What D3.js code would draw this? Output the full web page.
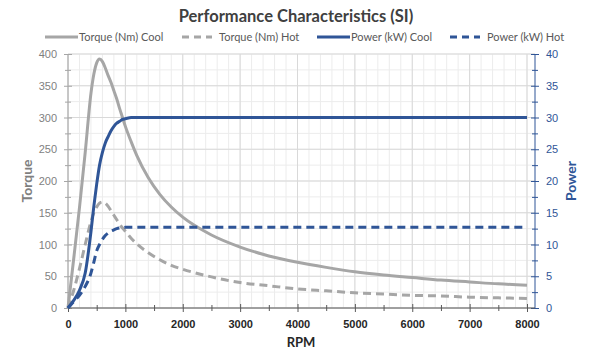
<!DOCTYPE html>
<html>
<head>
<meta charset="utf-8">
<script src="https://cdn.jsdelivr.net/npm/d3@7"></script>
<style>
  body { margin: 0; background: #fff; }
  svg { font-family: Lato, "Open Sans", sans-serif; }
</style>
</head>
<body>
<svg width="600" height="360"></svg>
<script>
// values
const rpm = [0, 100, 200, 300, 400, 450, 500, 550, 600, 650, 700, 750, 800, 850, 900, 950, 1000, 1100, 1200, 1400, 1600, 1800, 2000, 2500, 3000, 3500, 4000, 4500, 5000, 5500, 6000, 6500, 7000, 7500, 8000];
const torqueCool = [0, 78, 158, 245, 338, 368, 386, 392, 388, 378, 366, 355, 342, 329, 314, 300, 286, 262, 240, 205, 179, 159, 143, 115, 96, 82, 72, 64, 57, 52, 48, 44, 41, 38, 36];
const torqueHot = [0, 28, 62, 100, 136, 150, 159, 165, 167, 165, 160, 153, 146, 139, 132, 126, 121, 110, 101, 87, 76, 67, 61, 49, 40, 35, 30, 27, 24, 22, 20, 19, 17, 16, 15];
const powerCool = [0, 1.2, 2.8, 5.5, 12, 16, 19.5, 22.5, 24.5, 26, 27, 27.9, 28.6, 29.1, 29.4, 29.7, 29.8, 30, 30, 30, 30, 30, 30, 30, 30, 30, 30, 30, 30, 30, 30, 30, 30, 30, 30];
const powerHot = [0, 1, 2, 3.4, 5.5, 7.2, 9, 10, 10.8, 11.4, 11.8, 12.1, 12.3, 12.5, 12.6, 12.65, 12.7, 12.7, 12.7, 12.7, 12.7, 12.7, 12.7, 12.7, 12.7, 12.7, 12.7, 12.7, 12.7, 12.7, 12.7, 12.7, 12.7, 12.7, 12.7];

const xTicks = [0, 1000, 2000, 3000, 4000, 5000, 6000, 7000, 8000];
const torqueTicks = [0, 50, 100, 150, 200, 250, 300, 350, 400];
const powerTicks = [0, 5, 10, 15, 20, 25, 30, 35, 40];

const series = [
  { name: "Torque (Nm) Cool", y: torqueCool, axis: "left", color: "#a6a6a6", dash: null },
  { name: "Torque (Nm) Hot", y: torqueHot, axis: "left", color: "#a6a6a6", dash: "8,5" },
  { name: "Power (kW) Cool", y: powerCool, axis: "right", color: "#2f5597", dash: null },
  { name: "Power (kW) Hot", y: powerHot, axis: "right", color: "#2f5597", dash: "8,5" },
];

const svg = d3.select("svg");
const pLeft = 68, pRight = 535, pTop = 54, pBottom = 308;

// 8000 sits a little inside the right axis, like in the picture
let x = d3.scaleLinear().domain([0, 8000]).range([pLeft, 527]);
let yL = d3.scaleLinear().domain([0, 400]).range([pBottom, pTop]);
let yR = d3.scaleLinear().domain([0, 40]).range([pBottom, pTop]);

// grid
let grid = svg.append("g");
grid.selectAll(".vminor").data(d3.range(0, 8001, 200)).enter().append("line")
  .attr("x1", d => x(d)).attr("x2", d => x(d)).attr("y1", pTop).attr("y2", pBottom)
  .attr("stroke", "#ececec").attr("stroke-width", 1);
grid.selectAll(".hminor").data(d3.range(0, 401, 25)).enter().append("line")
  .attr("x1", pLeft).attr("x2", pRight).attr("y1", d => yL(d)).attr("y2", d => yL(d))
  .attr("stroke", "#ececec").attr("stroke-width", 1);
grid.selectAll(".vmajor").data(xTicks).enter().append("line")
  .attr("x1", d => x(d)).attr("x2", d => x(d)).attr("y1", pTop).attr("y2", pBottom)
  .attr("stroke", "#d9d9d9").attr("stroke-width", 1);
grid.selectAll(".hmajor").data(torqueTicks).enter().append("line")
  .attr("x1", pLeft).attr("x2", pRight).attr("y1", d => yL(d)).attr("y2", d => yL(d))
  .attr("stroke", "#d9d9d9").attr("stroke-width", 1);

// axes
let axisL = svg.append("g").attr("transform", `translate(${pLeft},0)`)
  .call(d3.axisLeft(yL).tickValues(torqueTicks).tickSize(4).tickPadding(7));
axisL.selectAll(".tick line").attr("x2", 4).attr("x1", -4);
let minorL = svg.append("g").attr("transform", `translate(${pLeft},0)`)
  .call(d3.axisLeft(yL).tickValues(d3.range(25, 400, 50)).tickSize(3).tickFormat(""));
minorL.selectAll(".tick line").attr("x1", 3);
minorL.select(".domain").remove();
[axisL, minorL].forEach(g => g.selectAll("line,path").attr("stroke", "#a6a6a6"));
axisL.select(".domain").attr("d", `M0,${pBottom}V${pTop}`);
axisL.selectAll("text").attr("fill", "#7f7f7f").style("font-size", "11px");

let axisR = svg.append("g").attr("transform", `translate(${pRight},0)`)
  .call(d3.axisRight(yR).tickValues(powerTicks).tickSize(4).tickPadding(7));
axisR.selectAll(".tick line").attr("x1", -4);
let minorR = svg.append("g").attr("transform", `translate(${pRight},0)`)
  .call(d3.axisRight(yR).tickValues(d3.range(2.5, 40, 5)).tickSize(3).tickFormat(""));
minorR.selectAll(".tick line").attr("x1", -3);
minorR.select(".domain").remove();
[axisR, minorR].forEach(g => g.selectAll("line,path").attr("stroke", "#2f5597"));
axisR.select(".domain").attr("d", `M0,${pBottom}V${pTop}`);
axisR.selectAll("text").attr("fill", "#2f5597").style("font-size", "11px");

let axisX = svg.append("g").attr("transform", `translate(0,${pBottom})`)
  .call(d3.axisBottom(x).tickValues(xTicks).tickFormat(d3.format("d")).tickSize(4).tickPadding(8));
axisX.selectAll(".tick line").attr("y1", -4);
let minorX = svg.append("g").attr("transform", `translate(0,${pBottom})`)
  .call(d3.axisBottom(x).tickValues(d3.range(500, 8000, 1000)).tickSize(3).tickFormat(""));
minorX.selectAll(".tick line").attr("y1", -3);
minorX.select(".domain").remove();
[axisX, minorX].forEach(g => g.selectAll("line,path").attr("stroke", "#595959"));
axisX.select(".domain").attr("d", `M${pLeft},0H${pRight}`);
axisX.selectAll("text").attr("fill", "#262626").style("font-size", "11px").style("font-weight", "bold");

// lines
let rows = rpm.map((r, i) => i);
series.forEach(s => {
  let ys = s.axis == "left" ? yL : yR;
  let line = d3.line()
    .x(i => x(rpm[i]))
    .y(i => ys(s.y[i]))
    .curve(d3.curveMonotoneX);
  svg.append("path")
    .datum(rows)
    .attr("d", line)
    .attr("fill", "none")
    .attr("stroke", s.color)
    .attr("stroke-width", 3)
    .attr("stroke-dasharray", s.dash);
});

// title + axis titles
svg.append("text").attr("x", 296).attr("y", 22).attr("text-anchor", "middle")
  .style("font-size", "16.5px").style("font-weight", "bold").attr("fill", "#404040")
  .text("Performance Characteristics (SI)");
svg.append("text").attr("transform", "translate(32,181) rotate(-90)").attr("text-anchor", "middle")
  .style("font-size", "14px").style("font-weight", "bold").attr("fill", "#7f7f7f").text("Torque");
svg.append("text").attr("transform", "translate(576,181) rotate(-90)").attr("text-anchor", "middle")
  .style("font-size", "14px").style("font-weight", "bold").attr("fill", "#2f5597").text("Power");
svg.append("text").attr("x", 301).attr("y", 347).attr("text-anchor", "middle")
  .style("font-size", "13px").style("font-weight", "bold").attr("fill", "#262626").text("RPM");

// legend
let legendX = [45, 182, 317, 450];
let legend = svg.selectAll(".leg").data(series).enter().append("g")
  .attr("transform", (d, i) => `translate(${legendX[i]},37)`);
legend.append("line").attr("x1", 0).attr("x2", d => d.dash ? 30 : 33).attr("y1", 0).attr("y2", 0)
  .attr("stroke", d => d.color).attr("stroke-width", 3)
  .attr("stroke-dasharray", d => d.dash ? "7,5" : null);
legend.append("text").attr("x", d => d.dash ? 37 : 34).attr("y", 4)
  .style("font-size", "11px").attr("fill", "#595959").text(d => d.name);
</script>
</body>
</html>
